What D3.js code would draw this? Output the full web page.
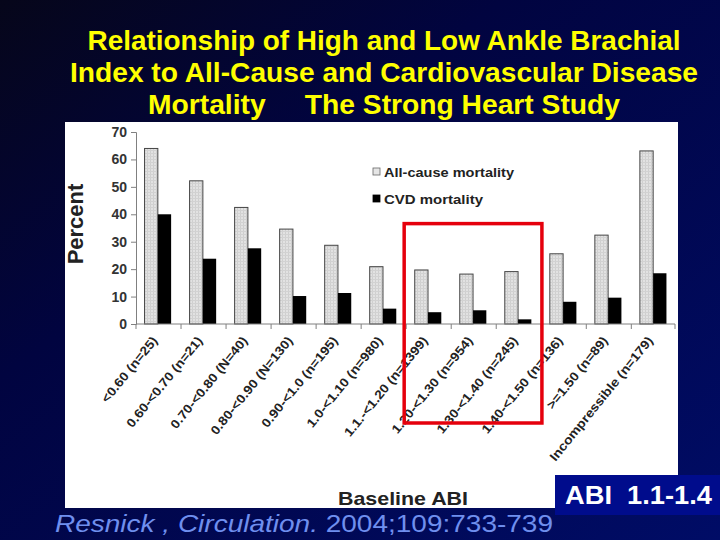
<!DOCTYPE html>
<html>
<head>
<meta charset="utf-8">
<script src="https://cdn.jsdelivr.net/npm/d3@7"></script>
<style>
  html, body { margin: 0; padding: 0; background: #000844; }
  svg { display: block; }
</style>
</head>
<body>
<div id="chart"></div>
<script>
/*****************************************************
 * ABI と死亡率の棒グラフ (Strong Heart Study)
 *****************************************************/
const categories = [
  "<0.60 (n=25)", "0.60-<0.70 (n=21)", "0.70-<0.80 (N=40)", "0.80-<0.90 (N=130)",
  "0.90-<1.0 (n=195)", "1.0-<1.10 (n=980)", "1.1.-<1.20 (n=1399)", "1.20-<1.30 (n=954)",
  "1.30-<1.40 (n=245)", "1.40-<1.50 (n=136)", ">=1.50 (n=89)", "Incompressible (n=179)"
];
const allCause = [64, 52.2, 42.5, 34.6, 28.7, 20.9, 19.7, 18.2, 19.1, 25.6, 32.4, 63.1];
const cvd      = [40, 23.8, 27.6, 10.2, 11.3, 5.6, 4.3, 5.0, 1.7, 8.1, 9.6, 18.5];
const yTicks = [0, 10, 20, 30, 40, 50, 60, 70];
const seriesNames = ["All-cause mortality", "CVD mortality"];
const titleLines = [
  "Relationship of High and Low Ankle Brachial",
  "Index to All-Cause and Cardiovascular Disease",
  "Mortality     The Strong Heart Study"
];
// 赤枠で囲む範囲 (カテゴリ index)
const highlight = [6, 8];

const width = 720, height = 540;
const svg = d3.select("#chart").append("svg")
  .attr("width", width).attr("height", height);

// 背景グラデーション
const defs = svg.append("defs");
const grad = defs.append("linearGradient")
  .attr("id", "bg").attr("x1", "0").attr("y1", "0").attr("x2", "1").attr("y2", "1");
grad.append("stop").attr("offset", "0").attr("stop-color", "#06061a");
grad.append("stop").attr("offset", "0.35").attr("stop-color", "#010440");
grad.append("stop").attr("offset", "1").attr("stop-color", "#000c66");
svg.append("rect").attr("width", width).attr("height", height).attr("fill", "url(#bg)");

// 棒の網目模様
const pat = defs.append("pattern").attr("id", "dots")
  .attr("width", 3).attr("height", 3).attr("patternUnits", "userSpaceOnUse");
pat.append("rect").attr("width", 3).attr("height", 3).attr("fill", "#e2e2e2");
pat.append("rect").attr("width", 1).attr("height", 3).attr("fill", "#cfcfcf");
pat.append("rect").attr("width", 3).attr("height", 1).attr("fill", "#d2d2d2");

const font = "Liberation Sans, Arial, sans-serif";

// タイトル
const titleWidths = [593, 628, 472];
svg.selectAll("text.title").data(titleLines).enter().append("text")
  .attr("class", "title")
  .attr("x", 384).attr("y", (d, i) => 50 + i * 32)
  .attr("text-anchor", "middle")
  .attr("font-family", font)
  .attr("font-weight", "bold").attr("font-size", 28)
  .attr("fill", "#ffff00")
  .attr("textLength", (d, i) => titleWidths[i])
  .attr("lengthAdjust", "spacingAndGlyphs")
  .style("white-space", "pre")
  .text(d => d);

// 白いパネル
svg.append("rect").attr("x", 65).attr("y", 122).attr("width", 613).attr("height", 386)
  .attr("fill", "#ffffff");

const x0 = d3.scaleBand().domain(categories).range([136, 675])
  .paddingInner(0.41).paddingOuter(0.19);
const x1 = d3.scaleBand().domain(seriesNames).range([0, x0.bandwidth()]);
const y = d3.scaleLinear().domain([0, 70]).range([324, 132]);

const axisColor = "#808080";

// 棒
const g = svg.append("g");
categories.forEach((c, i) => {
  g.append("rect")
    .attr("x", x0(c) + x1(seriesNames[0])).attr("y", y(allCause[i]))
    .attr("width", x1.bandwidth()).attr("height", y(0) - y(allCause[i]))
    .attr("fill", "url(#dots)").attr("stroke", "#444").attr("stroke-width", 1);
  g.append("rect")
    .attr("x", x0(c) + x1(seriesNames[1])).attr("y", y(cvd[i]))
    .attr("width", x1.bandwidth()).attr("height", y(0) - y(cvd[i]))
    .attr("fill", "#000");
});

// Y軸
const yAxis = svg.append("g").attr("transform", "translate(136,0)")
  .call(d3.axisLeft(y).tickValues(yTicks).tickSize(5).tickPadding(4));
yAxis.select(".domain").attr("stroke", axisColor);
yAxis.selectAll(".tick line").attr("stroke", axisColor);
yAxis.selectAll(".tick text").attr("font-family", font).attr("font-weight", "bold")
  .attr("font-size", 14).attr("fill", "#333");

// X軸 (目盛りはカテゴリの境界)
const x0Start = x0.range()[0], x0End = x0.range()[1];
svg.append("line").attr("x1", x0Start).attr("x2", x0End).attr("y1", y(0)).attr("y2", y(0))
  .attr("stroke", axisColor);
const tickPos = categories.map(c => x0(c) - x0.step() * x0.paddingOuter()).concat([x0End]);
svg.selectAll("line.xtick").data(tickPos).enter().append("line")
  .attr("class", "xtick")
  .attr("x1", d => d).attr("x2", d => d).attr("y1", y(0)).attr("y2", y(0) + 5)
  .attr("stroke", axisColor);

svg.selectAll("text.xlab").data(categories).enter().append("text")
  .attr("class", "xlab")
  .attr("transform", d => `translate(${x0(d) + x0.bandwidth() / 2 - 3},338) rotate(-51) scale(1.12,1)`)
  .attr("text-anchor", "end").attr("dy", "0.35em")
  .attr("font-family", font).attr("font-weight", "bold").attr("font-size", 12.5)
  .attr("fill", "#222")
  .text(d => d);

// 軸タイトル
svg.append("text").attr("transform", "translate(83,224) rotate(-90)")
  .attr("text-anchor", "middle").attr("font-family", font).attr("font-weight", "bold")
  .attr("font-size", 22).attr("fill", "#222").text("Percent");
svg.append("text").attr("x", 403).attr("y", 505)
  .attr("text-anchor", "middle").attr("font-family", font).attr("font-weight", "bold")
  .attr("font-size", 19).attr("fill", "#222")
  .attr("textLength", 130).attr("lengthAdjust", "spacingAndGlyphs")
  .text("Baseline ABI");

// 凡例
const legend = svg.append("g").attr("transform", "translate(373,172)");
seriesNames.forEach((s, i) => {
  const row = legend.append("g").attr("transform", `translate(0,${i * 27})`);
  row.append("rect").attr("x", 0).attr("y", -4).attr("width", 7).attr("height", 7)
    .attr("fill", i === 0 ? "#e6e6e6" : "#000").attr("stroke", i === 0 ? "#666" : "#000")
    .attr("stroke-width", 0.8);
  row.append("text").attr("x", 11).attr("y", 0).attr("dy", "0.35em")
    .attr("font-family", font).attr("font-weight", "bold").attr("font-size", 13.5)
    .attr("fill", "#222")
    .attr("textLength", i === 0 ? 130 : 99).attr("lengthAdjust", "spacingAndGlyphs")
    .text(s);
});

// 赤枠 (ABI 1.1-1.4)
const hx1 = x0(categories[highlight[0]]) - x0.step() * x0.paddingOuter() - 2;
const hx2 = x0(categories[highlight[1]]) + x0.bandwidth() + x0.step() * x0.paddingOuter() + 2;
svg.append("rect").attr("x", hx1).attr("y", y(36.6))
  .attr("width", hx2 - hx1).attr("height", 423 - y(36.6))
  .attr("fill", "none").attr("stroke", "#e5000c").attr("stroke-width", 3.5);

// 右下の青いボックス
svg.append("rect").attr("x", 555).attr("y", 475).attr("width", 165).attr("height", 40)
  .attr("fill", "#000c8c");
svg.append("text").attr("x", 565).attr("y", 504)
  .attr("font-family", font).attr("font-weight", "bold").attr("font-size", 25)
  .attr("fill", "#ffffff").style("white-space", "pre")
  .attr("textLength", 147).attr("lengthAdjust", "spacingAndGlyphs")
  .text("ABI  1.1-1.4");

// 出典
const cite = svg.append("text").attr("x", 55).attr("y", 532)
  .attr("font-family", font).attr("font-size", 24).attr("fill", "#6f8fee")
  .style("white-space", "pre")
  .attr("textLength", 498).attr("lengthAdjust", "spacingAndGlyphs");
cite.append("tspan").attr("font-style", "italic").text("Resnick , Circulation.");
cite.append("tspan").text(" 2004;109:733-739");
</script>
</body>
</html>
